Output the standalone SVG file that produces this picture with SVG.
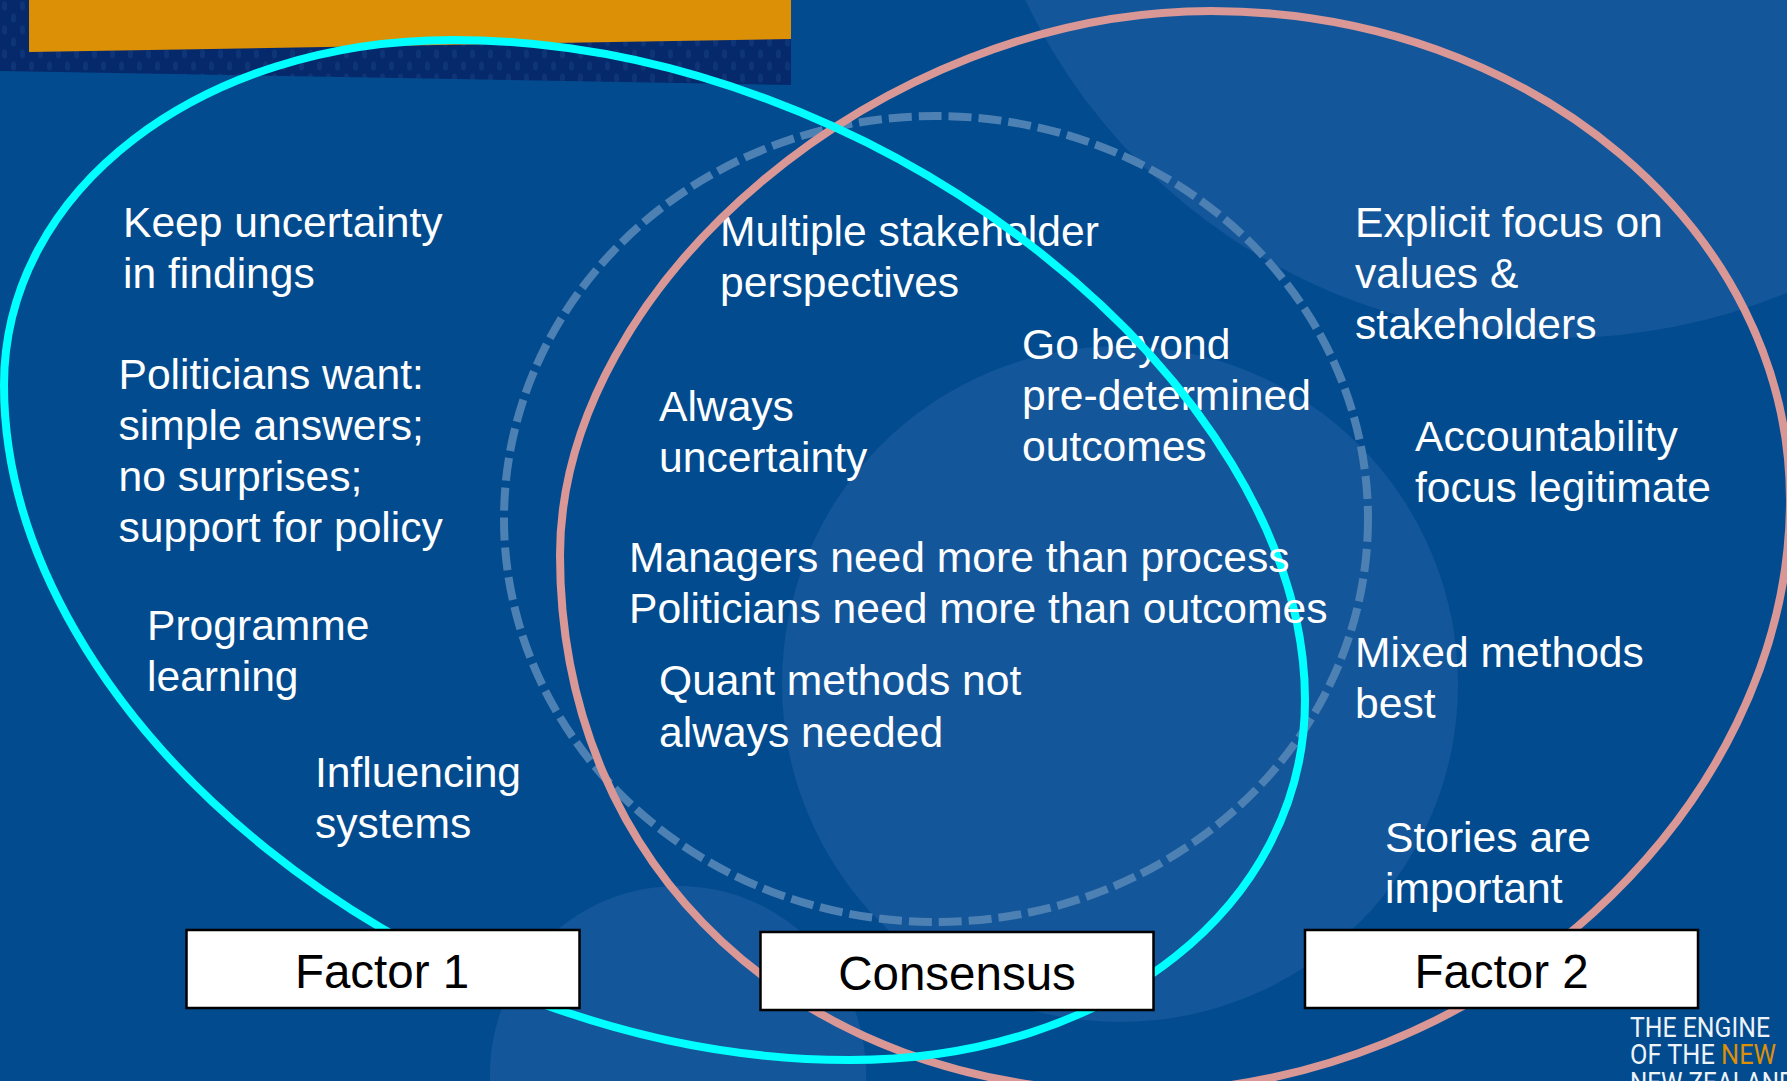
<svg xmlns="http://www.w3.org/2000/svg" width="1787" height="1081" viewBox="0 0 1787 1081">
<style>
.t{font-family:"Liberation Sans",Arial,sans-serif;font-size:42.6px;fill:#fff}
.b{fill:#fff;stroke:#000;stroke-width:2.500}
.bt{font-family:"Liberation Sans",Arial,sans-serif;font-size:47.500px;fill:#000;text-anchor:middle}
.l{font-family:"Roboto",sans-serif;font-size:27px;fill:#eef3f8}
.c{fill:none}
</style>
<defs><pattern id="dots" width="18" height="24" patternUnits="userSpaceOnUse"><rect width="18" height="24" fill="#06296c"/><ellipse cx="4.500" cy="6" rx="2.500" ry="4.500" fill="#0d3578"/><ellipse cx="13.500" cy="18" rx="2.500" ry="4.500" fill="#0d3578"/></pattern></defs>
<g id="background">
<rect width="1787" height="1081" fill="#024b8f"/>
<circle cx="1560" cy="-254" r="592" fill="#14569a"/>
<circle cx="1120" cy="684" r="338" fill="#14569a"/>
<circle cx="678" cy="1074" r="188" fill="#14569a"/>
<path d="M0 0H791V85L0 71Z" fill="url(#dots)"/>
<path d="M29 0H791V39L29 52Z" fill="#dc9006"/>
</g>
<g id="texts" transform="translate(0 1)">
<g id="factor1-items">
<text class="t" x="123" y="236">Keep uncertainty</text><text class="t" x="123" y="287">in findings</text>
<text class="t" x="118.500" y="388">Politicians want:</text><text class="t" x="118.500" y="439">simple answers;</text><text class="t" x="118.500" y="490">no surprises;</text><text class="t" x="118.500" y="541">support for policy</text>
<text class="t" x="147" y="638.500">Programme</text><text class="t" x="147" y="690">learning</text>
<text class="t" x="315" y="786">Influencing</text><text class="t" x="315" y="836.500">systems</text>
</g>
<g id="consensus-items">
<text class="t" x="720" y="245">Multiple stakeholder</text><text class="t" x="720" y="295.500">perspectives</text>
<text class="t" x="659" y="419.500">Always</text><text class="t" x="659" y="470.500">uncertainty</text>
<text class="t" x="1022" y="358">Go beyond</text><text class="t" x="1022" y="408.500">pre-determined</text><text class="t" x="1022" y="460">outcomes</text>
<text class="t" x="659" y="694">Quant methods not</text><text class="t" x="659" y="745.500">always needed</text>
</g>
<g id="factor2-items">
<text class="t" x="1355" y="236">Explicit focus on</text><text class="t" x="1355" y="287">values &amp;</text><text class="t" x="1355" y="338">stakeholders</text>
<text class="t" x="1415" y="450">Accountability</text><text class="t" x="1415" y="500.500">focus legitimate</text>
<text class="t" x="1355" y="665.500">Mixed methods</text><text class="t" x="1355" y="716.500">best</text>
<text class="t" x="1385" y="850.500">Stories are</text><text class="t" x="1385" y="901.500">important</text>
</g>
</g>
<g id="connectors">
<ellipse id="consensus-ring" class="c" cx="936" cy="519" rx="432" ry="403" stroke="#4d80b3" stroke-width="8" stroke-dasharray="23 7"/>
<path id="factor2-ring" class="c" stroke="#d99796" stroke-width="8" d="M1211 11C1531 11 1790 230 1790 500C1790 810 1485 1092 1135 1092C800 1092 560 870 560 555C560 285 880 11 1211 11Z"/>
<path id="factor1-ring" class="c" stroke="#00ffff" stroke-width="8" d="M453 40C880 40 1305 385 1305 700C1305 905 1110 1060 850 1060C420 1060 4 720 4 385C4 190 200 40 453 40Z"/>
</g>
<g id="consensus-top-items">
<text class="t" x="629" y="572">Managers need more than process</text><text class="t" x="629" y="623">Politicians need more than outcomes</text>
</g>
<g id="factor-1"><rect class="b" x="186.500" y="930" width="393" height="78"/><text class="bt" x="382" y="988">Factor 1</text></g>
<g id="consensus"><rect class="b" x="760.500" y="932" width="393" height="78"/><text class="bt" x="957" y="990">Consensus</text></g>
<g id="factor-2"><rect class="b" x="1305" y="930" width="393" height="78"/><text class="bt" x="1501.500" y="988">Factor 2</text></g>
<g id="logo">
<text class="l" x="1630" y="1036.500" textLength="140" lengthAdjust="spacingAndGlyphs">THE ENGINE</text>
<text class="l" x="1630" y="1064" textLength="146" lengthAdjust="spacingAndGlyphs">OF THE <tspan fill="#dc9006">NEW</tspan></text>
<text class="l" x="1630" y="1092" textLength="165" lengthAdjust="spacingAndGlyphs">NEW ZEALAND</text>
</g>
</svg>
